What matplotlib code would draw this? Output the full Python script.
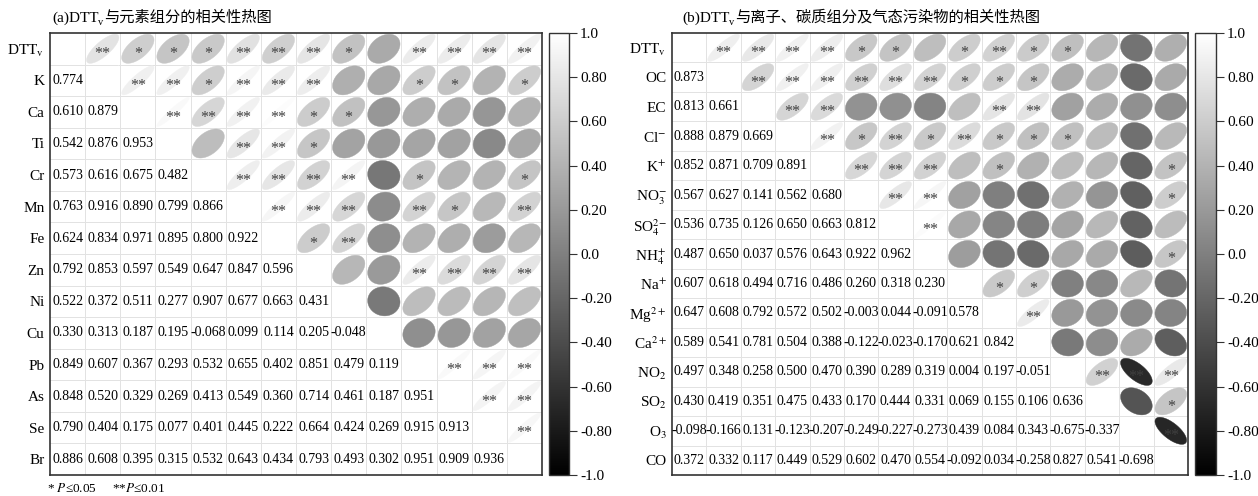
import numpy as np
import matplotlib
matplotlib.use("Agg")
import matplotlib.pyplot as plt
from matplotlib.patches import Polygon
from matplotlib.colors import Normalize
from matplotlib.cm import ScalarMappable
from matplotlib.transforms import IdentityTransform

plt.rcParams['font.family'] = ['Liberation Serif', 'Noto Sans CJK SC']
plt.rcParams['mathtext.fontset'] = 'stix'

# ---- data: lower triangles, row by row (row i has i values) ----
labels_a = ['DTT$_\\mathrm{v}$', 'K', 'Ca', 'Ti', 'Cr', 'Mn', 'Fe', 'Zn',
            'Ni', 'Cu', 'Pb', 'As', 'Se', 'Br']
lower_a = [
    [0.774],
    [0.610, 0.879],
    [0.542, 0.876, 0.953],
    [0.573, 0.616, 0.675, 0.482],
    [0.763, 0.916, 0.890, 0.799, 0.866],
    [0.624, 0.834, 0.971, 0.895, 0.800, 0.922],
    [0.792, 0.853, 0.597, 0.549, 0.647, 0.847, 0.596],
    [0.522, 0.372, 0.511, 0.277, 0.907, 0.677, 0.663, 0.431],
    [0.330, 0.313, 0.187, 0.195, -0.068, 0.099, 0.114, 0.205, -0.048],
    [0.849, 0.607, 0.367, 0.293, 0.532, 0.655, 0.402, 0.851, 0.479, 0.119],
    [0.848, 0.520, 0.329, 0.269, 0.413, 0.549, 0.360, 0.714, 0.461, 0.187, 0.951],
    [0.790, 0.404, 0.175, 0.077, 0.401, 0.445, 0.222, 0.664, 0.424, 0.269, 0.915, 0.913],
    [0.886, 0.608, 0.395, 0.315, 0.532, 0.643, 0.434, 0.793, 0.493, 0.302, 0.951, 0.909, 0.936],
]

labels_b = ['DTT$_\\mathrm{v}$', 'OC', 'EC', 'Cl$^{\\mathrm{-}}$', 'K$^{+}$',
            'NO$_{3}^{\\mathrm{-}}$', 'SO$_{4}^{2\\mathrm{-}}$', 'NH$_{4}^{+}$',
            'Na$^{+}$', 'Mg$^{2+}$', 'Ca$^{2+}$', 'NO$_{2}$', 'SO$_{2}$',
            'O$_{3}$', 'CO']
lower_b = [
    [0.873],
    [0.813, 0.661],
    [0.888, 0.879, 0.669],
    [0.852, 0.871, 0.709, 0.891],
    [0.567, 0.627, 0.141, 0.562, 0.680],
    [0.536, 0.735, 0.126, 0.650, 0.663, 0.812],
    [0.487, 0.650, 0.037, 0.576, 0.643, 0.922, 0.962],
    [0.607, 0.618, 0.494, 0.716, 0.486, 0.260, 0.318, 0.230],
    [0.647, 0.608, 0.792, 0.572, 0.502, -0.003, 0.044, -0.091, 0.578],
    [0.589, 0.541, 0.781, 0.504, 0.388, -0.122, -0.023, -0.170, 0.621, 0.842],
    [0.497, 0.348, 0.258, 0.500, 0.470, 0.390, 0.289, 0.319, 0.004, 0.197, -0.051],
    [0.430, 0.419, 0.351, 0.475, 0.433, 0.170, 0.444, 0.331, 0.069, 0.155, 0.106, 0.636],
    [-0.098, -0.166, 0.131, -0.123, -0.207, -0.249, -0.227, -0.273, 0.439, 0.084, 0.343, -0.675, -0.337],
    [0.372, 0.332, 0.117, 0.449, 0.529, 0.602, 0.470, 0.554, -0.092, 0.034, -0.258, 0.827, 0.541, -0.698],
]

# significance thresholds of |r| (n = 16)
r05, r01 = 0.4965, 0.6226

cbar_ticks = [1.0, 0.8, 0.6, 0.4, 0.2, 0.0, -0.2, -0.4, -0.6, -0.8, -1.0]
cbar_labels = ['1.0', '0.80', '0.60', '0.40', '0.20', '0.0',
               '-0.20', '-0.40', '-0.60', '-0.80', '-1.0']

W, H = 1258, 496
fig = plt.figure(figsize=(W / 100, H / 100), dpi=100)
cmap = plt.cm.gray
norm = Normalize(-1, 1)


def px_axes(x0, x1, y0, y1):
    return fig.add_axes([x0 / W, 1 - y1 / H, (x1 - x0) / W, (y1 - y0) / H])


def to_matrix(lower):
    n = len(lower) + 1
    m = np.eye(n)
    for i, row in enumerate(lower, start=1):
        for j, v in enumerate(row):
            m[i, j] = v
            m[j, i] = v
    return m


def draw_panel(ax, cax, labels, lower):
    m = to_matrix(lower)
    n = len(labels)
    ax.set_xlim(0, n)
    ax.set_ylim(n, 0)
    for k in range(1, n):
        ax.axhline(k, color='#e2e2e2', lw=0.7, zorder=0)
        ax.axvline(k, color='#e2e2e2', lw=0.7, zorder=0)
    t = np.linspace(0, 2 * np.pi, 90)
    s = 0.46
    for i in range(n):
        for j in range(n):
            r = m[i, j]
            cx, cy = j + 0.5, i + 0.5
            if j < i:
                ax.text(cx, cy, '%.3f' % r, ha='center', va='center', fontsize=10)
            else:
                d = np.arccos(np.clip(r, -1, 1))
                xs = cx + s * np.cos(t + d / 2)
                ys = cy - s * np.cos(t - d / 2)
                col = cmap(norm(r))
                ax.add_patch(Polygon(np.column_stack([xs, ys]), closed=True,
                                     facecolor=col, edgecolor=col, lw=0.3, zorder=2))
                if j > i:
                    star = '**' if abs(r) >= r01 else ('*' if abs(r) >= r05 else '')
                    if star:
                        ax.text(cx, cy + 0.18, star, ha='center', va='center',
                                fontsize=11.5, color='#404040', zorder=3)
    ax.set_xticks([])
    ax.set_yticks(np.arange(n) + 0.5)
    ax.set_yticklabels(labels, fontsize=11)
    ax.tick_params(axis='y', length=0, pad=4)
    for sp in ax.spines.values():
        sp.set_linewidth(1.2)
        sp.set_color('#333333')

    cb = fig.colorbar(ScalarMappable(norm=norm, cmap=cmap), cax=cax)
    cb.set_ticks(cbar_ticks)
    cb.set_ticklabels(cbar_labels)
    cax.tick_params(length=6, width=0.8, direction='out', labelsize=11, pad=2,
                    color='#333333')
    cb.outline.set_linewidth(1.0)
    cb.outline.set_edgecolor('#333333')


ax_a = px_axes(50, 542, 33, 475)
cax_a = px_axes(549, 569, 33, 475)
draw_panel(ax_a, cax_a, labels_a, lower_a)

ax_b = px_axes(672, 1188, 33, 475)
cax_b = px_axes(1195, 1216, 33, 475)
draw_panel(ax_b, cax_b, labels_b, lower_b)

renderer = fig.canvas.get_renderer()


def mixed_title(x, y_top, parts):
    # parts: (text, fontsize, vertical offset in px)
    y = H - y_top
    for txt, fs, dy in parts:
        tt = fig.text(x, y + dy, txt, transform=IdentityTransform(),
                      va='baseline', ha='left', fontsize=fs)
        x = tt.get_window_extent(renderer).x1


mixed_title(52, 22, [('(a)DTT', 11, 0), ('v', 7.5, -3),
                     ('与元素组分的相关性热图', 11, 0)])
mixed_title(682, 22, [('(b)DTT', 11, 0), ('v', 7.5, -3),
                      ('与离子、碳质组分及气态污染物的相关性热图', 11, 0)])

fig.text(47 / W, 1 - 488 / H, '* $P$≤0.05     **$P$≤0.01', fontsize=9.5,
         va='center', ha='left')

fig.savefig('out.png', dpi=100)
